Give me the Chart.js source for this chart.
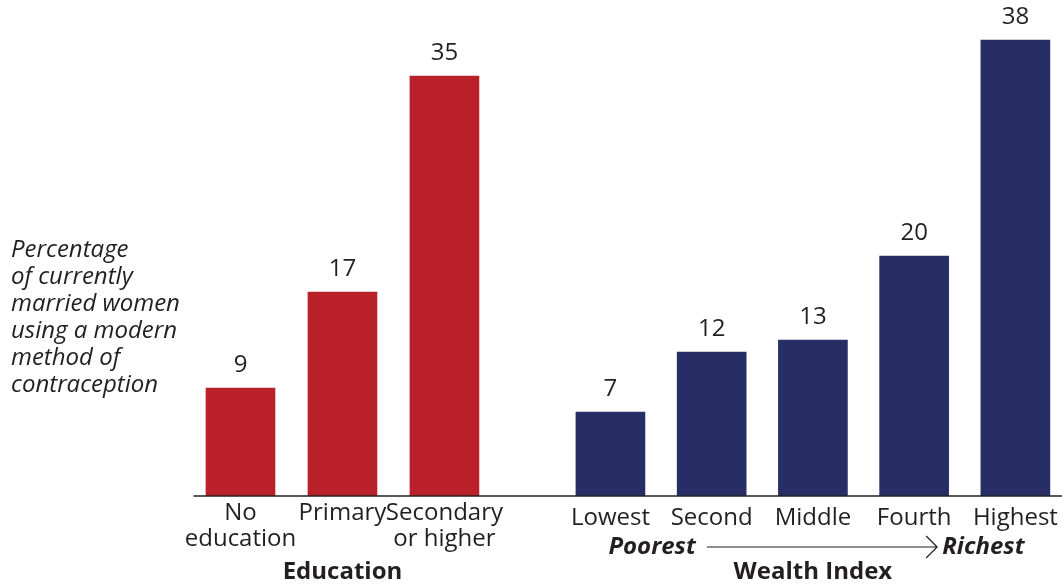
<!DOCTYPE html>
<html>
<head>
<meta charset="utf-8">
<script src="https://cdn.jsdelivr.net/npm/chart.js@4"></script>
<style>
  html, body { margin: 0; padding: 0; background: #fff; overflow: hidden; }
  #wrap { position: relative; width: 1080px; height: 584px; }
</style>
</head>
<body>
<div id="wrap"><canvas id="chart"></canvas></div>
<script>
// data
const eduLabels = [["No", "education"], "Primary", ["Secondary", "or higher"]];
const eduValues = [9, 17, 35];
const wealthLabels = ["Lowest", "Second", "Middle", "Fourth", "Highest"];
const wealthValues = [7, 12, 13, 20, 38];
const sideTitle = ["Percentage", "of currently", "married women", "using a modern", "method of", "contraception"];
const wealthEnds = ["Poorest", "Richest"];

const RED = '#BA2029';
const NAVY = '#272E65';
const INK = '#231F20';
const FONT = "'Open Sans', sans-serif";
const SIZE = 24;

// numbers above the bars
const valueLabels = {
  id: 'valueLabels',
  afterDatasetsDraw(chart) {
    const ctx = chart.ctx;
    ctx.save();
    ctx.font = SIZE + "px " + FONT;
    ctx.fillStyle = INK;
    ctx.textAlign = 'center';
    ctx.textBaseline = 'middle';
    chart.data.datasets.forEach((ds, i) => {
      chart.getDatasetMeta(i).data.forEach((bar, j) => {
        ctx.fillText(ds.data[j], bar.x, bar.y - 23);
      });
    });
    ctx.restore();
  }
};

// baseline, italic note on the left, poorest -> richest arrow
const extraText = {
  id: 'extraText',
  afterDraw(chart) {
    const ctx = chart.ctx;
    const area = chart.chartArea;
    const y0 = chart.scales.y.getPixelForValue(0);
    ctx.save();
    ctx.strokeStyle = INK;
    ctx.lineWidth = 1.5;
    ctx.beginPath();
    ctx.moveTo(area.left + 4, y0);
    ctx.lineTo(area.right, y0);
    ctx.stroke();

    ctx.fillStyle = INK;
    ctx.textBaseline = 'middle';
    ctx.textAlign = 'left';
    ctx.font = "italic " + SIZE + "px " + FONT;
    sideTitle.forEach((line, i) => {
      ctx.fillText(line, 11, 250 + i * 27);
    });

    const xw = chart.scales.xW;
    const y = 547;
    ctx.font = "italic bold " + SIZE + "px " + FONT;
    const x0 = xw.getPixelForValue(0) - 2;
    ctx.fillText(wealthEnds[0], x0, y);
    const startX = x0 + ctx.measureText(wealthEnds[0]).width + 11;
    const richX = xw.getPixelForValue(3) + 28;
    ctx.fillText(wealthEnds[1], richX, y);
    const endX = richX - 5;

    ctx.lineWidth = 1.2;
    ctx.beginPath();
    ctx.moveTo(startX, y);
    ctx.lineTo(endX, y);
    ctx.moveTo(endX - 11, y - 11);
    ctx.lineTo(endX, y);
    ctx.lineTo(endX - 11, y + 11);
    ctx.stroke();
    ctx.restore();
  }
};

// stacked x axes side by side; drop label overhang so the chart area stays put
function noOverhang(scale) {
  scale.paddingLeft = 0;
  scale.paddingRight = 0;
}

const xBase = {
  type: 'category',
  position: 'bottom',
  stack: 'groups',
  offset: true,
  afterFit: noOverhang,
  grid: { display: false, drawTicks: false },
  border: { display: false }
};

const tickFont = { family: FONT, size: SIZE, lineHeight: 1.05 };
const titleFont = { family: FONT, size: SIZE, weight: 'bold', lineHeight: 1.15 };
const tickBase = { color: INK, maxRotation: 0, minRotation: 0, autoSkip: false, font: tickFont };

new Chart(document.getElementById('chart'), {
  type: 'bar',
  data: {
    datasets: [
      { label: 'Education', data: eduValues, xAxisID: 'xEdu', backgroundColor: RED },
      { label: 'Wealth Index', data: wealthValues, xAxisID: 'xW', backgroundColor: NAVY }
    ]
  },
  options: {
    responsive: true,
    maintainAspectRatio: false,
    animation: false,
    devicePixelRatio: 1,
    layout: { padding: { left: 189.5, right: 14, top: 0, bottom: 0 } },
    datasets: { bar: { barThickness: 69, grouped: false } },
    plugins: { legend: { display: false }, tooltip: { enabled: false } },
    scales: {
      xEdu: Object.assign({}, xBase, {
        labels: eduLabels,
        stackWeight: 306,
        ticks: Object.assign({}, tickBase, { padding: 5 }),
        title: { display: true, text: 'Education', color: INK, font: titleFont,
          padding: { top: 2, bottom: -2 } }
      }),
      xGap: Object.assign({}, xBase, {
        labels: [' '],
        stackWeight: 64.4,
        ticks: Object.assign({}, tickBase, { padding: 5 })
      }),
      xW: Object.assign({}, xBase, {
        labels: wealthLabels,
        stackWeight: 506.3,
        ticks: Object.assign({}, tickBase, { padding: 10 }),
        title: { display: true, text: 'Wealth Index', color: INK, font: titleFont,
          padding: { top: 2, bottom: -2 } }
      }),
      y: { display: false, min: 0, max: 41.33 }
    }
  },
  plugins: [valueLabels, extraText]
});
</script>
</body>
</html>
